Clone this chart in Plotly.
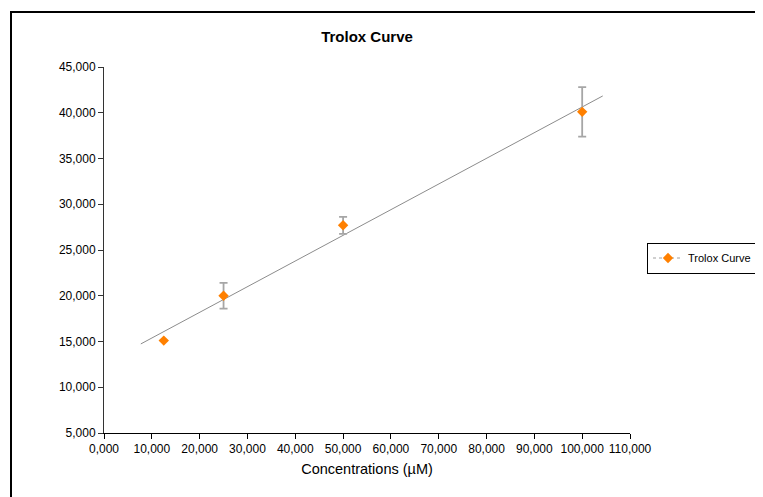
import numpy as np
import plotly.graph_objects as go

# Data
conc = [12500, 25000, 50000, 100000]
signal = [15100, 20000, 27700, 40100]
err = [None, 1400, 930, 2700]

x_tickvals = [0, 10000, 20000, 30000, 40000, 50000, 60000, 70000, 80000, 90000, 100000, 110000]
x_ticktext = ["0,000", "10,000", "20,000", "30,000", "40,000", "50,000", "60,000",
              "70,000", "80,000", "90,000", "100,000", "110,000"]
y_tickvals = [5000, 10000, 15000, 20000, 25000, 30000, 35000, 40000, 45000]
y_ticktext = ["5,000", "10,000", "15,000", "20,000", "25,000", "30,000", "35,000", "40,000", "45,000"]

trend_range = [7700, 104300]

# Linear trendline fitted from data
slope, intercept = np.polyfit(conc, signal, 1)
tx = np.array(trend_range)
ty = slope * tx + intercept

err_arr = [e if e is not None else 0 for e in err]

# page offset (default body margin of the html page)
OFF = 8
W, H = 763 - OFF, 497 - OFF
L, R, T, B = 104 - OFF, 630 - OFF, 67 - OFF, 433 - OFF


def px_x(sx):
    return (sx - OFF - L) / (R - L)


def px_y(sy):
    return (B - (sy - OFF)) / (B - T)


fig = go.Figure()
fig.add_trace(go.Scatter(
    x=tx, y=ty, mode="lines",
    line=dict(color="#8c8c8c", width=1),
    showlegend=False, hoverinfo="skip"))
fig.add_trace(go.Scatter(
    x=conc, y=signal, mode="markers",
    marker=dict(symbol="diamond", size=8, color="#FF8000"),
    error_y=dict(type="data", array=err_arr, visible=True,
                 color="#a6a6a6", thickness=1.8, width=4),
    showlegend=False, name="Trolox Curve"))
# legend entry (Excel-style dotted line + marker)
fig.add_trace(go.Scatter(
    x=[None], y=[None], mode="lines+markers", name="Trolox Curve",
    line=dict(color="#a0a0a0", width=1, dash="dot"),
    marker=dict(symbol="diamond", size=8, color="#FF8000")))

fig.add_shape(type="rect", xref="paper", yref="paper",
              x0=px_x(11), x1=px_x(780),
              y0=px_y(515), y1=px_y(12),
              line=dict(color="black", width=2), fillcolor="rgba(0,0,0,0)")

fig.update_layout(
    width=W, height=H,
    margin=dict(l=L, r=W - R, t=T, b=H - B, autoexpand=False),
    paper_bgcolor="white", plot_bgcolor="white",
    font=dict(family="Liberation Sans, Arial, sans-serif", color="black", size=12),
    title=dict(text="<b>Trolox Curve</b>", x=px_x(367), xref="paper",
               xanchor="center", y=1 - (37 - OFF) / H, yanchor="middle",
               font=dict(size=15, color="black")),
    xaxis=dict(range=[0, 110000], tickvals=x_tickvals, ticktext=x_ticktext,
               showgrid=False, zeroline=False, showline=True, linecolor="black",
               linewidth=1, ticks="outside", ticklen=5, tickcolor="black",
               tickfont=dict(size=12), automargin=False,
               title=dict(text="Concentrations (µM)", font=dict(size=14.5), standoff=8)),
    yaxis=dict(range=[5000, 45000], tickvals=y_tickvals, ticktext=y_ticktext,
               showgrid=False, zeroline=False, showline=True, linecolor="#333333",
               linewidth=1, ticks="outside", ticklen=5, tickcolor="#333333",
               tickfont=dict(size=12), automargin=False),
    legend=dict(xref="container", yref="container",
                x=(647 - OFF) / W, y=1 - (258 - OFF) / H, xanchor="left", yanchor="middle",
                bordercolor="black", borderwidth=1, bgcolor="white",
                font=dict(size=11), itemwidth=30, tracegroupgap=0),
)

fig.write_html("out.html")
